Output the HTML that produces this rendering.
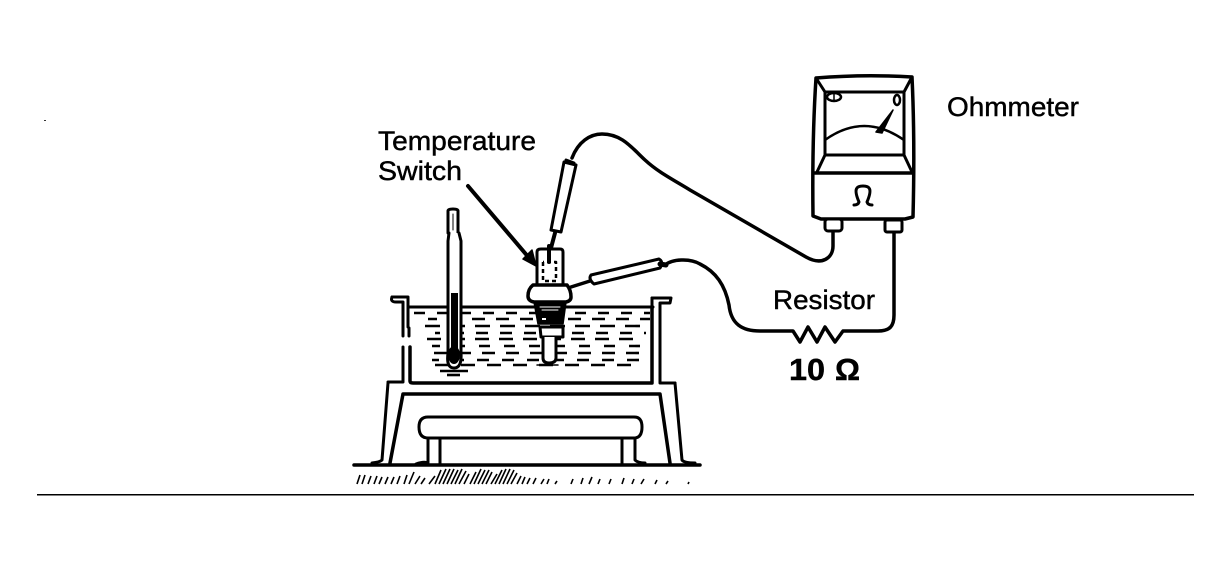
<!DOCTYPE html>
<html>
<head>
<meta charset="utf-8">
<style>
html,body{margin:0;padding:0;background:#fff;width:1231px;height:570px;overflow:hidden}
svg{display:block}
text{font-family:"Liberation Sans",sans-serif;fill:#000;stroke:#000;stroke-width:.45}
</style>
</head>
<body>
<svg width="1231" height="570" viewBox="0 0 1231 570" xmlns="http://www.w3.org/2000/svg">
<rect width="1231" height="570" fill="#fff"/>
<rect x="37" y="494" width="1157" height="1.5" fill="#000"/>
<rect x="44" y="120" width="2" height="1" fill="#333"/>

<!-- labels -->
<text x="378" y="150" font-size="27" textLength="158" lengthAdjust="spacingAndGlyphs">Temperature</text>
<text x="378" y="180" font-size="27" textLength="84" lengthAdjust="spacingAndGlyphs">Switch</text>
<text x="947" y="116" font-size="27" textLength="132" lengthAdjust="spacingAndGlyphs">Ohmmeter</text>
<text x="773" y="309" font-size="27" textLength="102" lengthAdjust="spacingAndGlyphs">Resistor</text>
<text x="789" y="380" font-size="31" font-weight="bold" textLength="36" lengthAdjust="spacingAndGlyphs">10</text>
<text x="835" y="380" font-size="31" font-weight="bold" textLength="25" lengthAdjust="spacingAndGlyphs">Ω</text>

<g fill="none" stroke="#000" stroke-linecap="round" stroke-linejoin="round">
<!-- arrow -->
<path d="M468 186 L530 259" stroke-width="4"/>
<path d="M536 266 L523 259 L532 250 Z" fill="#000" stroke-width="1.5"/>

<!-- water dashes -->
<g stroke-width="2.6" stroke-linecap="butt">
<path d="M414 313H650" stroke-dasharray="11 12"/>
<path d="M428 319H650" stroke-dasharray="13 11" stroke-dashoffset="4"/>
<path d="M425 326H648" stroke-dasharray="15 10"/>
<path d="M435 333H646" stroke-dasharray="12 12" stroke-dashoffset="7"/>
<path d="M427 339H642" stroke-dasharray="14 10"/>
<path d="M432 346H640" stroke-dasharray="11 14" stroke-dashoffset="3"/>
<path d="M434 353H645" stroke-dasharray="13 11"/>
<path d="M432 360H640" stroke-dasharray="12 13" stroke-dashoffset="5"/>
<path d="M435 365H640" stroke-dasharray="14 12"/>
<path d="M440 371H468"/>
<path d="M447 375H460"/>
</g>

<!-- tank -->
<path d="M409 307H653" stroke-width="3"/>
<path d="M392 297H408V327" stroke-width="3"/>
<path d="M392 297Q390 302 396 302H403V336" stroke-width="3"/>
<path d="M403 347V382H388" stroke-width="3"/>
<path d="M409 328V336" stroke-width="3"/>
<path d="M410 347V381Q410 383 413 383H652V308" stroke-width="3.5"/>
<path d="M652 298H671L670 303H660V383H675" stroke-width="3"/>
<path d="M652 298V306" stroke-width="3"/>

<!-- stand -->
<path d="M388 383L382 460Q380 462 372 463" stroke-width="3"/>
<path d="M390 463L403 394H660L670 463" stroke-width="3.5"/>
<path d="M675 383L682 460Q684 463 695 463" stroke-width="3"/>
<path d="M354 465H700" stroke-width="3.5"/>
<path d="M428 417H634Q642 417 642 427Q642 438 634 438H428Q419 438 419 427Q419 417 428 417Z" fill="#fff" stroke-width="3"/>
<path d="M428 438V463Q424 461 416 464M440 438V464" stroke-width="3"/>
<path d="M622 438V464M635 438V460Q638 463 645 463" stroke-width="3"/>

<!-- thermometer -->
<path d="M448 233V211Q448 209 453 209Q458 209 458 211V233" fill="#fff" stroke-width="3"/>
<path d="M449 233L448 241V353Q446 368 454 368Q462 368 461 353V241L459 233" fill="#fff" stroke-width="3"/>
<path d="M453 214V230" stroke-width="1"/>
<rect x="451" y="293" width="7" height="60" fill="#000" stroke="none"/>
<ellipse cx="454" cy="355" rx="6" ry="9" fill="#000" stroke="none"/>

<!-- switch -->
<path d="M537 285V252Q537 249 541 249H560Q563 249 563 252V285" fill="#fff" stroke-width="3"/>
<path d="M543 262V281H556V262H543" stroke-width="2.5" stroke-dasharray="4 3" stroke-linecap="butt"/>
<path d="M549 262V246" stroke-width="4"/>
<path d="M533 285H567Q571 290 571 297Q571 301 566 302H534Q528 301 528 296Q528 289 533 285Z" fill="#fff" stroke-width="3.5"/>
<path d="M534 302H566L563 324H538Z" fill="#000" stroke-width="1.5"/>
<path d="M540 307H560M542 310H558" stroke="#fff" stroke-width="1"/>
<rect x="542" y="318" width="4" height="2" fill="#fff" stroke="none"/>
<path d="M540 327H563V337H541Z" fill="#fff" stroke-width="3"/>
<path d="M543 337V358Q543 363 549 363Q556 363 556 358V337" fill="#fff" stroke-width="3"/>
<path d="M537 365H558" stroke-width="1.5"/>

<!-- upper probe -->
<path d="M564 162L576 165L561 232L551 230Z" fill="#fff" stroke-width="3"/>
<path d="M566 160L574 163" stroke-width="3"/>
<path d="M555 233L551 248" stroke-width="4"/>
<path d="M572 158C578 142 590 134 602 134C622 134 632 148 645 160C658 172 672 179 690 190L806 257C822 266 833 258 833 246V232" stroke-width="3.5"/>

<!-- lower probe -->
<path d="M591 275L659 259Q664 262 660 268L594 284Q588 279 591 275Z" fill="#fff" stroke-width="3"/>
<path d="M571 287L590 281" stroke-width="3.5"/>
<path d="M660 264L666 265" stroke-width="5"/>
<path d="M665 265C672 259 690 258 700 264C716 272 725 285 729 305C731 324 742 331 760 331H793L800 342L808 327L817 342L825 327L835 342L843 331H878C890 331 894 326 894 315V232" stroke-width="3.5"/>

<!-- ohmmeter -->
<path d="M816 78Q864 74 912 77Q915 140 913 217L905 219H821L813 216Q812 140 816 78Z" fill="#fff" stroke-width="3.5"/>
<path d="M815 173H913" stroke-width="3.5"/>
<rect x="825" y="92" width="79" height="63" stroke-width="3"/>
<path d="M816 78L825 92M912 77L904 92M825 155L817 172M904 155L912 172" stroke-width="3"/>
<path d="M825 140Q864 112 904 140" stroke-width="2.5"/>
<path d="M876 132L893 110L882 133Z" fill="#000" stroke-width="1.5"/>
<ellipse cx="834" cy="97" rx="7" ry="4" stroke-width="2.5"/>
<path d="M834 94V100" stroke-width="1.5"/>
<ellipse cx="897" cy="100" rx="3" ry="5" stroke-width="2.5"/>
<path d="M854 205Q858 205 859 202C853 188 857 186 863 186C869 186 873 188 867 202Q868 205 872 205" stroke-width="3"/>
<rect x="825" y="219" width="17" height="12" rx="3" fill="#fff" stroke-width="3"/>
<rect x="885" y="220" width="17" height="12" rx="2" fill="#fff" stroke-width="3"/>

<!-- ground hatch -->
<g stroke-width="1.6" stroke-linecap="butt">
<path d="M357 484L360 475M362 484L365 475M368 484L371 476M374 484L377 476M379 484L382 477M385 484L388 477M391 484L394 477M397 484L400 476M404 484L407 475M409 484L414 472M415 484L420 476M421 484L425 478M429 484L435 476M435 484L441 470M439 484L446 469M443 484L450 469M447 484L454 469M451 484L458 470M455 484L462 469M459 484L466 471M464 484L469 474M470 484L476 472M474 484L481 469M478 484L485 470M482 484L489 470M486 484L492 472M491 484L497 474M495 484L502 470M499 484L506 469M503 484L510 469M507 484L514 470M511 484L517 473M517 484L521 476M522 484L525 477M527 484L530 478M533 484L536 478M541 484L544 479M547 484L549 479M555 484L557 481M571 484L573 479M581 484L583 478M589 484L592 477M598 484L600 479M609 484L611 479M622 484L624 478M632 484L634 479M641 484L644 479M655 484L657 480M666 484L668 481M688 484L689 482"/>
</g>
</g>
</svg>
</body>
</html>
